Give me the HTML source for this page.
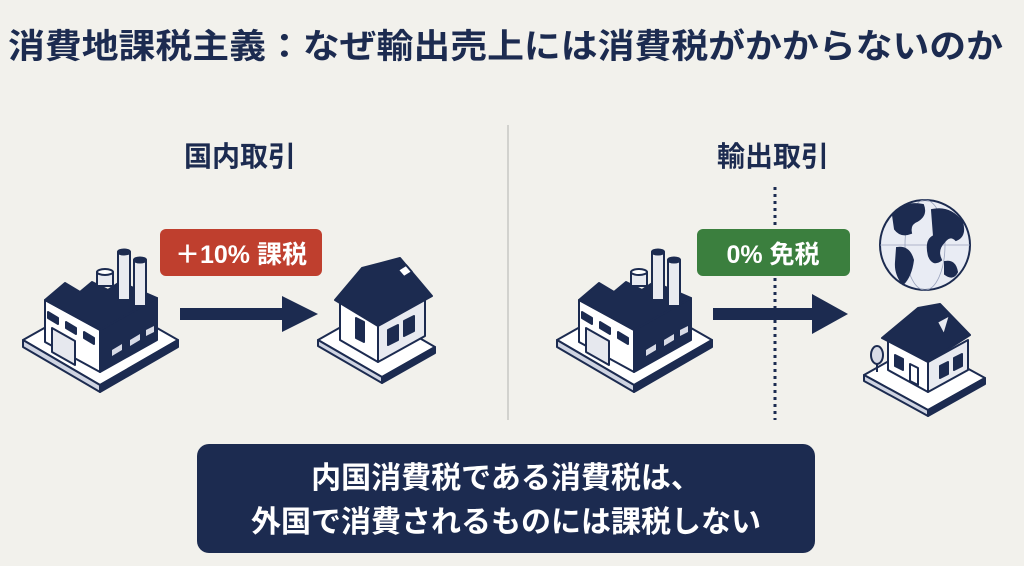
<!DOCTYPE html>
<html><head><meta charset="utf-8"><style>
html,body{margin:0;padding:0;background:#f2f1ec;}
svg{display:block;}
text{font-family:"Liberation Sans","Noto Sans CJK JP",sans-serif;}
</style></head><body>
<svg width="1024" height="566" viewBox="0 0 1024 566" xmlns="http://www.w3.org/2000/svg">
<rect width="1024" height="566" fill="#f2f1ec"/>
<defs>
<g id="factory" stroke="#1c2b50" stroke-width="2" stroke-linejoin="round">
  <polygon points="23,340 100,385 178,340 101,296" fill="#fff"/>
  <polygon points="23,340 100,385 100,392 23,347" fill="#cfd4e2"/>
  <polygon points="100,385 178,340 178,347 100,392" fill="#1c2b50"/>
  <polygon points="45,300 100,330 100,372 45,342" fill="#fff"/>
  <polygon points="100,330 157,298 157,340 100,372" fill="#1c2b50"/>
  <polygon points="45,300 65,283 80,292 92,282 108,290 120,282 157,298 100,330" fill="#1c2b50"/>
  <polygon points="48,312 58,318 58,324 48,318" fill="#1c2b50"/>
  <polygon points="66,322 76,328 76,334 66,328" fill="#1c2b50"/>
  <polygon points="84,332 94,338 94,344 84,338" fill="#1c2b50"/>
  <polygon points="52,328 75,341 75,365 52,352" fill="#e6e8ee"/>
  <polygon points="112,350 122,344 122,350 112,356" fill="#d8dbe6" stroke="none"/>
  <polygon points="130,340 140,334 140,340 130,346" fill="#d8dbe6" stroke="none"/>
  <polygon points="146,330 154,326 154,332 146,336" fill="#d8dbe6" stroke="none"/>
  <rect x="97" y="272" width="16" height="14" fill="#e8eaf0"/>
  <ellipse cx="105" cy="272" rx="8" ry="3" fill="#fff"/>
  <rect x="118" y="252" width="12" height="48" fill="#e8eaf0"/>
  <ellipse cx="124" cy="252" rx="6" ry="2.5" fill="#1c2b50"/>
  <rect x="134" y="260" width="12" height="46" fill="#e8eaf0"/>
  <ellipse cx="140" cy="260" rx="6" ry="2.5" fill="#1c2b50"/>
</g>
</defs>

<text x="8" y="58" font-size="34" font-weight="bold" fill="#1c2b50" textLength="995" lengthAdjust="spacingAndGlyphs">消費地課税主義：なぜ輸出売上には消費税がかからないのか</text>

<line x1="508" y1="125" x2="508" y2="420" stroke="#c8c8c4" stroke-width="1.5"/>

<text x="240" y="166" font-size="28" font-weight="bold" fill="#1c2b50" text-anchor="middle">国内取引</text>
<text x="773" y="166" font-size="28" font-weight="bold" fill="#1c2b50" text-anchor="middle">輸出取引</text>

<use href="#factory"/>
<rect x="160" y="229" width="162" height="47" rx="6" fill="#bf3f2e"/>
<text x="241" y="263" font-size="25" font-weight="bold" fill="#fff" text-anchor="middle">＋10% 課税</text>
<rect x="180" y="308" width="108" height="12" fill="#1c2b50"/>
<polygon points="282,296 318,314 282,332" fill="#1c2b50"/>

<g stroke="#1c2b50" stroke-width="2" stroke-linejoin="round">
  <polygon points="318,340 382,377 435,347 371,310" fill="#fff"/>
  <polygon points="318,340 382,377 382,383 318,346" fill="#cfd4e2"/>
  <polygon points="382,377 435,347 435,353 382,383" fill="#1c2b50"/>
  <polygon points="340,302 378,324 378,362 340,340" fill="#fff"/>
  <polygon points="378,324 425,298 425,336 378,362" fill="#e8eaf0"/>
  <polygon points="335,300 362,268 400,258 432,296 378,326" fill="#1c2b50"/>
  <polygon points="356,318 364,322 364,342 356,338" fill="#1c2b50"/>
  <polygon points="388,330 398,325 398,340 388,345" fill="#1c2b50"/>
  <polygon points="404,321 414,316 414,331 404,336" fill="#1c2b50"/>
  <polygon points="398,270 406,265 412,272 404,277" fill="#fff"/>
</g>

<use href="#factory" transform="translate(534,0)"/>
<line x1="775" y1="187" x2="775" y2="420" stroke="#1c2b50" stroke-width="3" stroke-dasharray="3,4"/>
<rect x="697" y="229" width="153" height="47" rx="6" fill="#3b7f3e"/>
<text x="773" y="263" font-size="25" font-weight="bold" fill="#fff" text-anchor="middle">0% 免税</text>
<rect x="713" y="308" width="105" height="12" fill="#1c2b50"/>
<polygon points="812,294 848,314 812,334" fill="#1c2b50"/>

<g stroke="#1c2b50" stroke-width="2">
  <circle cx="925" cy="245" r="45" fill="#e9ecf4"/>
  <ellipse cx="925" cy="245" rx="20" ry="45" fill="none" stroke-width="0.8" stroke="#9aa3bd"/>
  <line x1="880" y1="245" x2="970" y2="245" stroke-width="0.8" stroke="#9aa3bd"/>
  <path d="M893 215 q12-14 30-10 q4 10-6 16 q-8 3-6 12 q-10 4-16-4z M932 210 q18-4 30 12 q4 14-6 18 q-6-6-12 2 q-8 8-3 18 q-8 6-12-4 q-4-16 5-20z M897 248 q12-2 16 12 q-2 16-10 24 q-8-10-7-22z M945 262 q10-2 12 10 q-4 8-12 2z" fill="#1c2b50"/>
</g>

<g stroke="#1c2b50" stroke-width="2" stroke-linejoin="round">
  <polygon points="864,375 928,410 985,378 921,343" fill="#fff"/>
  <polygon points="864,375 928,410 928,416 864,381" fill="#cfd4e2"/>
  <polygon points="928,410 985,378 985,384 928,416" fill="#1c2b50"/>
  <polygon points="888,340 928,362 928,392 888,370" fill="#fff"/>
  <polygon points="928,362 968,340 968,370 928,392" fill="#e8eaf0"/>
  <polygon points="882,338 918,308 940,304 970,335 928,362" fill="#1c2b50"/>
  <polygon points="937,322 950,315 944,335" fill="#e8eaf0"/>
  <polygon points="895,355 903,359 903,370 895,366" fill="#1c2b50"/>
  <polygon points="910,364 918,368 918,385 910,381" fill="#fff"/>
  <polygon points="940,366 948,362 948,374 940,378" fill="#1c2b50"/>
  <polygon points="954,358 962,354 962,366 954,370" fill="#1c2b50"/>
  <ellipse cx="877" cy="355" rx="6" ry="9" fill="#d8dbe6"/>
  <line x1="877" y1="364" x2="877" y2="372"/>
</g>

<rect x="197" y="444" width="618" height="109" rx="12" fill="#1c2b50"/>
<text x="506" y="488" font-size="30" font-weight="bold" fill="#fff" text-anchor="middle">内国消費税である消費税は、</text>
<text x="506" y="532" font-size="30" font-weight="bold" fill="#fff" text-anchor="middle">外国で消費されるものには課税しない</text>
</svg>
</body></html>
